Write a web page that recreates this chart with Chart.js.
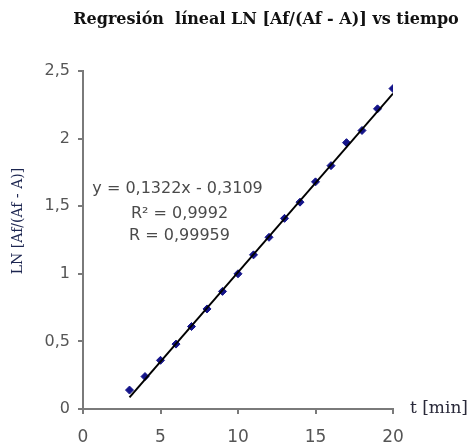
<!DOCTYPE html>
<html>
<head>
<meta charset="utf-8">
<script src="https://cdn.jsdelivr.net/npm/chart.js@4"></script>
<style>
  html, body { margin: 0; padding: 0; background: #fff; }
  #wrap { width: 473px; height: 442px; }
</style>
</head>
<body>
<div id="wrap"><canvas id="chart"></canvas></div>
<script>
const tiempo = [3, 4, 5, 6, 7, 8, 9, 10, 11, 12, 13, 14, 15, 16, 17, 18, 19, 20];
const lnValues = [0.14, 0.24, 0.36, 0.48, 0.61, 0.74, 0.87, 1.00, 1.14, 1.27, 1.41, 1.53, 1.68, 1.80, 1.97, 2.06, 2.22, 2.37];
const slope = 0.1322;
const intercept = -0.3109;
const rSquared = '0,9992';
const rValue = '0,99959';
const xTicks = [0, 5, 10, 15, 20];
const yTicks = [0, 0.5, 1, 1.5, 2, 2.5];

const titleText = 'Regresión  líneal LN [Af/(Af - A)] vs tiempo';
const yTitle = 'LN [Af/(Af - A)]';
const xTitle = 't [min]';

const comma = (v) => String(v).replace('.', ',');

const trendX = [tiempo[0], tiempo[tiempo.length - 1]];
const trendPoints = trendX.map((x) => ({ x: x, y: slope * x + intercept }));
const points = tiempo.map((t, i) => ({ x: t, y: lnValues[i] }));

const extraText = {
  id: 'extraText',
  afterDraw(chart) {
    const ctx = chart.ctx;
    const area = chart.chartArea;
    ctx.save();
    ctx.textAlign = 'center';
    ctx.textBaseline = 'middle';
    // title
    ctx.fillStyle = '#111';
    ctx.font = 'bold 16px "DejaVu Serif"';
    ctx.fillText(titleText, 266, 20);
    // y axis title
    ctx.save();
    ctx.translate(18, 221);
    ctx.rotate(-Math.PI / 2);
    ctx.fillStyle = '#1c2550';
    ctx.font = '14px "DejaVu Serif"';
    ctx.fillText(yTitle, 0, 0);
    ctx.restore();
    // x axis title
    ctx.textAlign = 'left';
    ctx.fillStyle = '#2a2a3a';
    ctx.font = '17px "DejaVu Serif"';
    ctx.fillText(xTitle, area.right + 17, area.bottom);
    // regression text
    ctx.textAlign = 'center';
    ctx.fillStyle = '#4a4a4a';
    ctx.font = '16px "DejaVu Sans"';
    const cx = chart.scales.x.getPixelForValue(6.1);
    ctx.fillText('y = ' + comma(slope) + 'x - ' + comma(-intercept), cx, chart.scales.y.getPixelForValue(1.63));
    ctx.fillText('R² = ' + rSquared, cx + 2, chart.scales.y.getPixelForValue(1.44));
    ctx.fillText('R = ' + rValue, cx + 2, chart.scales.y.getPixelForValue(1.28));
    ctx.restore();
  },
};

new Chart(document.getElementById('chart'), {
  type: 'scatter',
  data: {
    datasets: [
      {
        label: 'Lineal',
        data: trendPoints,
        showLine: true,
        borderColor: '#000',
        borderWidth: 2,
        pointRadius: 0,
      },
      {
        label: 'LN',
        data: points,
        pointStyle: 'rectRot',
        pointRadius: 4,
        backgroundColor: '#14148a',
        borderColor: '#14148a',
        borderWidth: 1,
      },
    ],
  },
  options: {
    responsive: true,
    maintainAspectRatio: false,
    animation: false,
    layout: { padding: { left: 0, right: 80, top: 71, bottom: 0 } },
    plugins: {
      legend: { display: false },
      tooltip: { enabled: false },
    },
    scales: {
      x: {
        type: 'linear',
        min: 0,
        max: 20,
        afterBuildTicks: (scale) => {
          scale.ticks = xTicks.map((v) => ({ value: v }));
        },
        afterFit: (scale) => {
          scale.height = 33;
        },
        border: { color: '#7a7a7a', width: 2 },
        grid: { drawOnChartArea: false, tickLength: 5, color: '#7a7a7a', lineWidth: 2 },
        ticks: {
          color: '#555',
          font: { family: 'DejaVu Sans', size: 17 },
          padding: 13,
          callback: (v) => comma(v),
        },
      },
      y: {
        type: 'linear',
        min: 0,
        max: 2.5,
        afterBuildTicks: (scale) => {
          scale.ticks = yTicks.map((v) => ({ value: v }));
        },
        afterFit: (scale) => {
          scale.width = 83;
        },
        border: { color: '#7a7a7a', width: 2 },
        grid: { drawOnChartArea: false, tickLength: 5, color: '#7a7a7a', lineWidth: 2 },
        ticks: {
          color: '#555',
          font: { family: 'DejaVu Sans', size: 16 },
          padding: 8,
          callback: (v) => comma(v),
        },
      },
    },
  },
  plugins: [extraText],
});
</script>
</body>
</html>
